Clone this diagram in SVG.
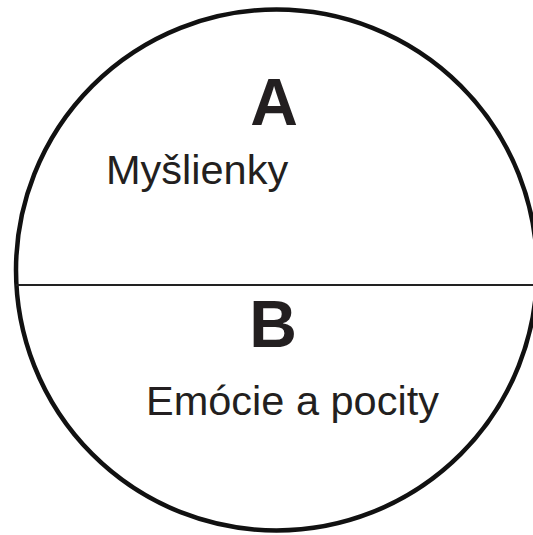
<svg xmlns="http://www.w3.org/2000/svg" width="533" height="535" viewBox="0 0 533 535">
  <style>
    .outline { fill: none; stroke: #111; stroke-width: 4.5; }
    .divider { stroke: #222; stroke-width: 1.8; }
    .letter { font-family: "Liberation Sans", Arial, sans-serif; font-weight: bold; font-size: 66px; fill: #231f20; text-anchor: middle; }
    .label { font-family: "Liberation Sans", Arial, sans-serif; font-size: 41.5px; fill: #231f20; }
  </style>
  <rect width="533" height="535" fill="#fff"/>
  <g id="connectors">
    <circle class="outline" cx="276.5" cy="270" r="260.5"/>
    <line class="divider" x1="16" y1="285" x2="533" y2="285"/>
  </g>
  <g id="node-a">
    <text class="letter" x="274" y="125">A</text>
    <text class="label" x="106" y="184">Myšlienky</text>
  </g>
  <g id="node-b">
    <text class="letter" x="273" y="347">B</text>
    <text class="label" x="146" y="415">Emócie a pocity</text>
  </g>
</svg>
